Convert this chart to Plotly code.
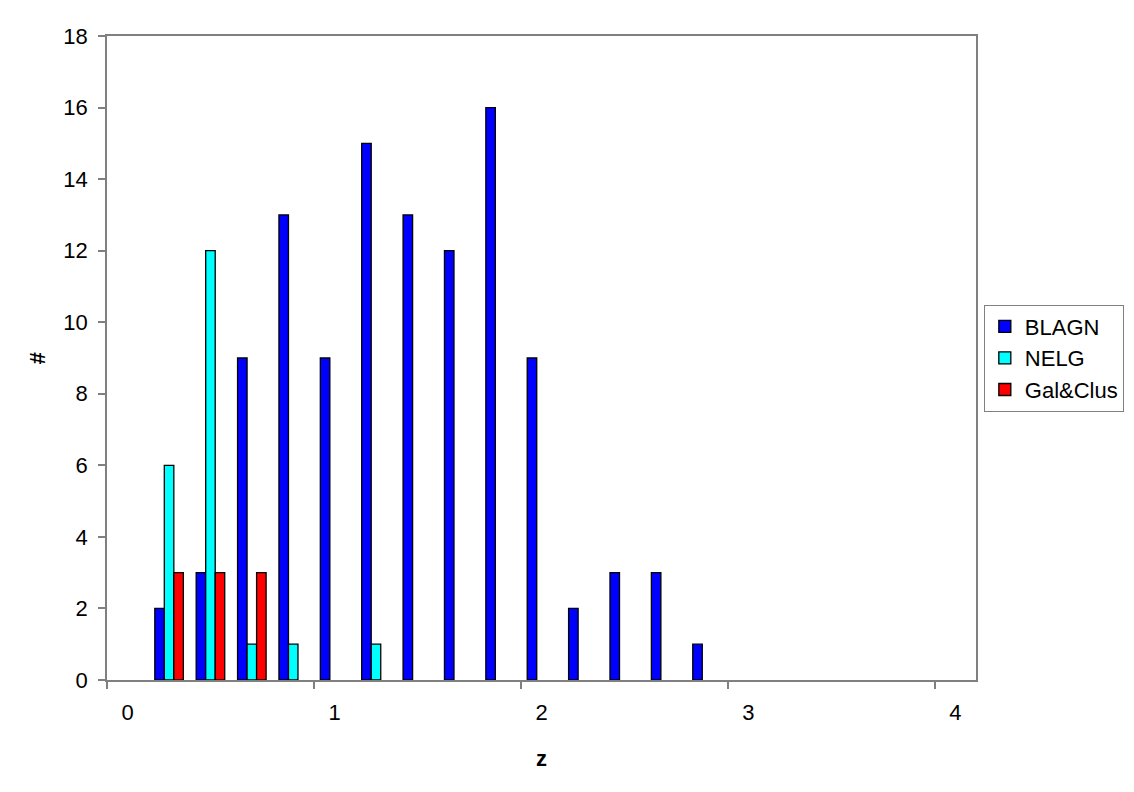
import plotly.graph_objects as go

z_bins = [0.0, 0.2, 0.4, 0.6, 0.8, 1.0, 1.2, 1.4, 1.6, 1.8, 2.0,
          2.2, 2.4, 2.6, 2.8, 3.0, 3.2, 3.4, 3.6, 3.8, 4.0]
blagn = [0, 2, 3, 9, 13, 9, 15, 13, 12, 16, 9, 2, 3, 3, 1, 0, 0, 0, 0, 0, 0]
nelg = [0, 6, 12, 1, 1, 0, 1, 0, 0, 0, 0, 0, 0, 0, 0, 0, 0, 0, 0, 0, 0]
galclus = [0, 3, 3, 3, 0, 0, 0, 0, 0, 0, 0, 0, 0, 0, 0, 0, 0, 0, 0, 0, 0]
x_ticks = [0, 1, 2, 3, 4]
y_ticks = [0, 2, 4, 6, 8, 10, 12, 14, 16, 18]

series = [("BLAGN", blagn, "#0000FF"),
          ("NELG", nelg, "#00FFFF"),
          ("Gal&Clus", galclus, "#FF0000")]

fig = go.Figure()
for name, vals, col in series:
    fig.add_trace(go.Bar(
        x=z_bins, y=[v if v else None for v in vals], name=name,
        marker=dict(color=col, line=dict(color="#000000", width=1.3)),
    ))

font = "Liberation Sans, Arial, sans-serif"
fig.update_layout(
    width=1126, height=784,
    barmode="group", bargap=0.31, bargroupgap=0,
    plot_bgcolor="#FFFFFF", paper_bgcolor="#FFFFFF",
    margin=dict(l=99, r=158, t=28, b=112, autoexpand=False),
    font=dict(family=font, size=22, color="#000000"),
    showlegend=True,
    legend=dict(
        x=1.009, y=0.5, xanchor="left", yanchor="middle",
        bgcolor="#FFFFFF", bordercolor="#808080", borderwidth=1,
        font=dict(size=22), tracegroupgap=0, itemwidth=30,
    ),
    xaxis=dict(
        range=[-0.1, 4.1], tickmode="array", tickvals=x_ticks,
        ticktext=[str(t) for t in x_ticks], ticks="", showgrid=False,
        zeroline=False, showline=True, linecolor="#808080", linewidth=1.5,
        mirror=True, ticklabelstandoff=12, tickfont=dict(size=22),
        minor=dict(tickmode="linear", tick0=-0.1, dtick=1, ticks="outside",
                   ticklen=7, tickcolor="#808080", tickwidth=1.5, showgrid=False),
        title=dict(text="<b>z</b>", font=dict(size=22), standoff=26),
    ),
    yaxis=dict(
        range=[0, 18], tickmode="array", tickvals=y_ticks, ticks="outside",
        ticklen=7, tickcolor="#808080", tickwidth=1.5, showgrid=False,
        zeroline=False, showline=True, linecolor="#808080", linewidth=1.5,
        mirror=True, ticklabelstandoff=6, tickfont=dict(size=22),
        title=dict(text="<b>#</b>", font=dict(size=22), standoff=12),
    ),
)

fig.write_html("out.html")
